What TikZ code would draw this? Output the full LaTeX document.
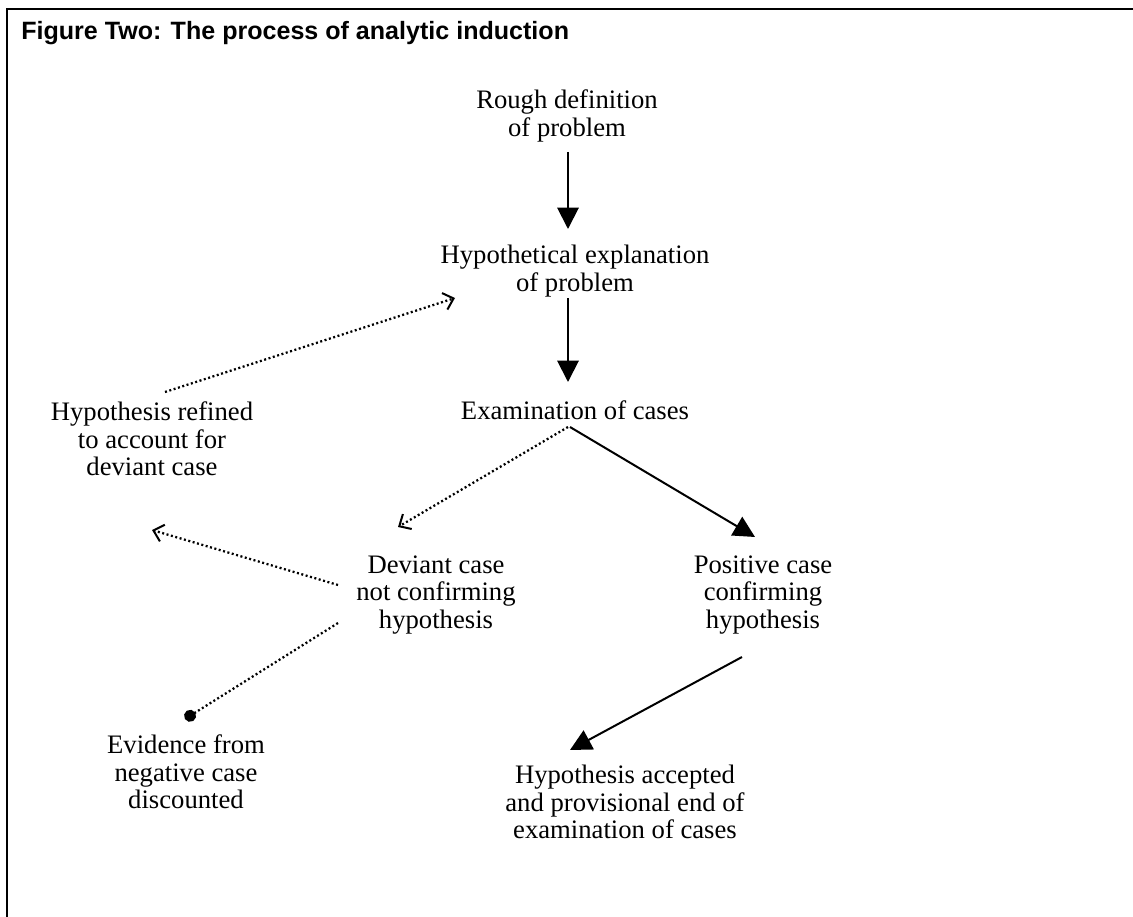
\documentclass[tikz,border=0pt]{standalone}
\usepackage{fontspec}
\setmainfont{Liberation Serif}
\newfontfamily\titlefont{Liberation Sans}
\usepackage{tikz}
\usetikzlibrary{calc}
\usetikzlibrary{arrows.meta}
\tikzset{>=latex}
\tikzset{
  stage/.style = {align=center, inner sep=0pt, font=\fontsize{20}{20.5}\selectfont},
  sure/.style = {line width=1.5pt, -{Triangle[length=16pt, width=16pt]}},
  doubt/.style = {line width=1.7pt, dash pattern=on 1.5pt off 1.9pt, -{Straight Barb[length=7pt, width=13pt, line width=1.5pt]}},
  drop/.style = {line width=1.7pt, dash pattern=on 1.5pt off 1.9pt, -{Circle[length=9pt, width=9pt]}}
}

\begin{document}
\begin{tikzpicture}[x=0.75pt, y=-0.75pt]
\useasboundingbox (0,0) rectangle (1133,917);
\draw [line width=1.5pt] (7,917) -- (7,9) -- (1133,9);
\node [anchor=base west, inner sep=0pt, font=\titlefont\bfseries\fontsize{18.8}{22}\selectfont] (title) at (21,40) {Figure Two: The process of analytic induction};

\node [stage] (rough) at (567,116) {Rough definition\\of problem};
\node [stage] (hypo) at (575,271) {Hypothetical explanation\\of problem};
\node [stage] (exam) at (575,410) {Examination of cases};
\node [stage] (refined) at (152,439) {Hypothesis refined\\to account for\\deviant case};
\node [stage] (deviant) at (436,595) {Deviant case\\not confirming\\hypothesis};
\node [stage] (positive) at (763,595) {Positive case\\confirming\\hypothesis};
\node [stage] (evidence) at (186,772) {Evidence from\\negative case\\discounted};
\node [stage] (accepted) at (625,802) {Hypothesis accepted\\and provisional end of\\examination of cases};

\draw [sure] ($(rough)+(1,36)$) to ($(hypo)+(-7,-42)$);
\draw [sure] ($(hypo)+(-7,27)$) to ($(exam)+(-7,-28)$);
\draw [doubt] ($(exam)+(-7,17)$) to ($(deviant)+(-38,-68)$);
\draw [sure] ($(exam)+(-5,17)$) to ($(positive)+(-8,-58)$);
\draw [doubt] ($(deviant)+(-98,-10)$) to ($(refined)+(0,91)$);
\draw [doubt] ($(refined)+(13,-47)$) to ($(hypo)+(-120,27)$);
\draw [drop] ($(deviant)+(-98,28)$) to ($(evidence)+(-1,-53)$);
\draw [sure] ($(positive)+(-21,62)$) to ($(accepted)+(-55,-52)$);
\end{tikzpicture}
\end{document}
